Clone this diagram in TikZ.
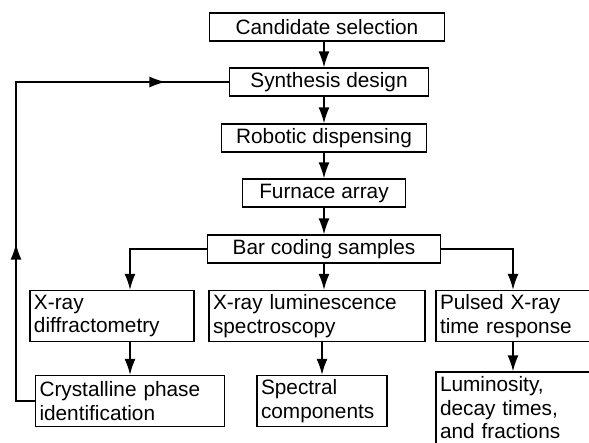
\documentclass[tikz,border=0pt]{standalone}
\usepackage{fontspec}
\setmainfont{Liberation Sans}
\usetikzlibrary{arrows.meta,decorations.markings}
\tikzset{%
  >={Latex[length=16pt,width=11pt]}, % long filled heads
  stage/.style={draw,line width=1.4pt,inner sep=4pt,minimum height=28pt,
    font=\fontsize{20.8}{23.5}\selectfont},%
  probe/.style={stage,align=left,minimum height=51pt},%
  flow/.style={->,line width=1.4pt},%
  feedback/.style={line width=1.4pt,decoration={markings,
    mark=at position 0.32 with {\arrow{>}},
    mark=at position 0.885 with {\arrow{>}}},postaction={decorate}}%
}
\begin{document}
\begin{tikzpicture}[x=1pt,y=-1pt]

%% page frame

\useasboundingbox (0,0) rectangle (589,442);

%% main column

\node[stage,minimum width=235pt] (cand) at (327,27) {Candidate selection};
\node[stage,minimum width=199pt] (synth) at (329,82) {Synthesis design};
\node[stage,minimum width=205pt] (robot) at (324,138) {Robotic dispensing};
\node[stage,minimum width=163pt] (furn) at (324,193) {Furnace array};
\node[stage,minimum width=233pt] (bar) at (324,249) {Bar coding samples};

%% measurements

\node[probe,text width=156pt] (xrd) at (112,316) {X-ray\\diffractometry};
\node[probe,text width=208pt] (xrl) at (317,316) {X-ray luminescence\\spectroscopy};
\node[probe,text width=146pt] (pxr) at (513,316) {Pulsed X-ray\\time response};

%% results

\node[probe,text width=181pt] (cry) at (130,401) {Crystalline phase\\identification};
\node[probe,text width=122pt] (spec) at (322,401) {Spectral\\components};
\node[probe,text width=146pt,minimum height=72pt] (lum) at (513,408)
  {Luminosity,\\decay times,\\and fractions};

%% arrows

\coordinate (back) at (16,0); % left return line

\draw[flow] (cand.south -| bar.north) -- (synth.north -| bar.north);
\draw[flow] (synth.south -| bar.north) -- (robot.north -| bar.north);
\draw[flow] (robot.south -| bar.north) -- (furn.north);
\draw[flow] (furn.south) -- (bar.north);
\draw[flow] (bar.west) -| (xrd.north -| cry.north);
\draw[flow] (bar.south) -- (bar.south |- xrl.north);
\draw[flow] (bar.east) -| (pxr.north);
\draw[flow] (xrd.south -| cry.north) -- (cry.north);
\draw[flow] (xrl.south -| spec.north) -- (spec.north);
\draw[flow] (pxr.south) -- (pxr.south |- lum.north);
\draw[feedback] (cry.west) -- (cry.west -| back) |- (synth.west);

\end{tikzpicture}
\end{document}
